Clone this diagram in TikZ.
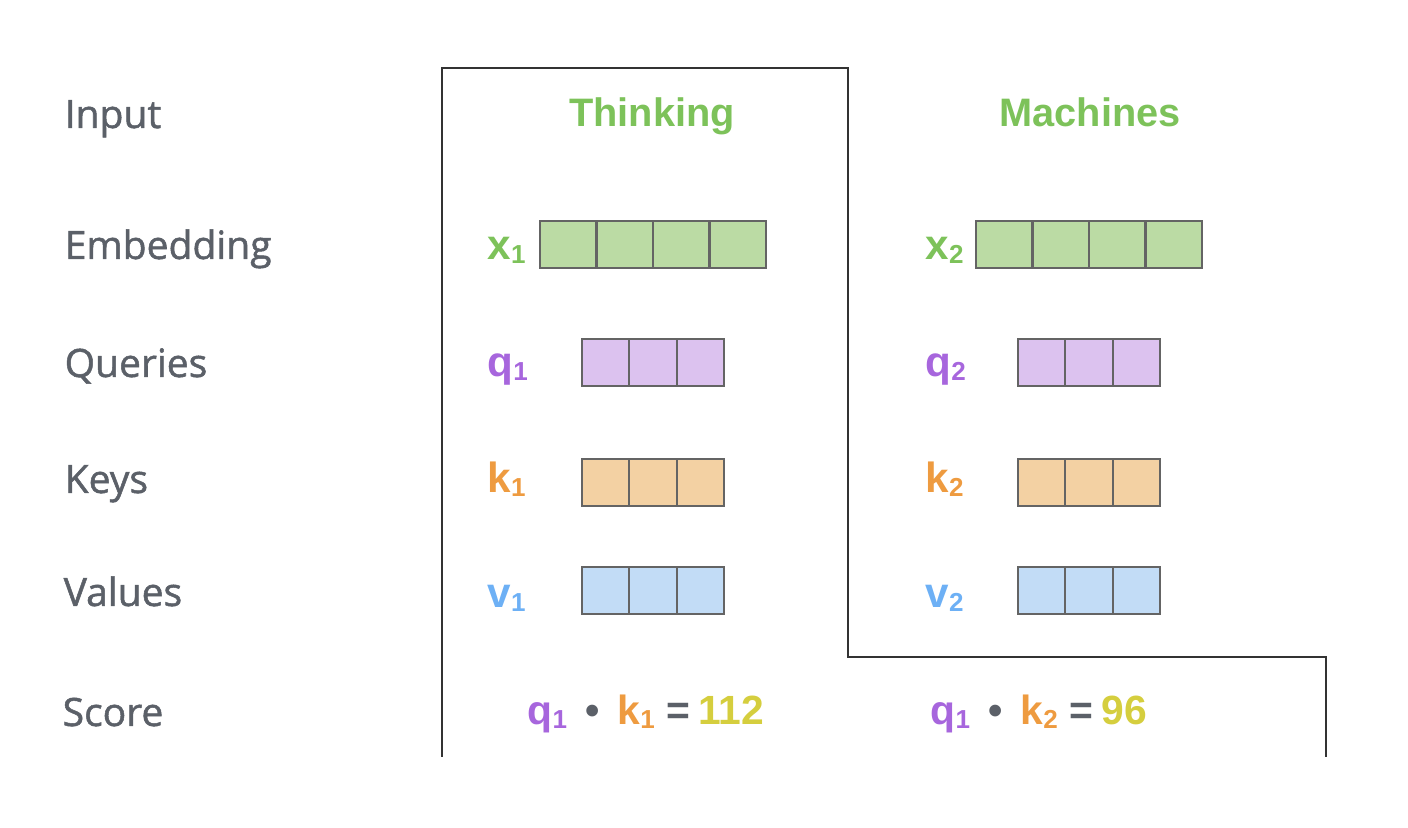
\documentclass[tikz,border=0pt]{standalone}
\usepackage{fontspec}
\setmainfont{Liberation Sans}
\newfontfamily\labelfont[FakeBold=1.3]{Open Sans}
\definecolor{greentext}{HTML}{7DC25A}
\definecolor{greenfill}{HTML}{BBDBA4}
\definecolor{purpletext}{HTML}{A766DD}
\definecolor{purplefill}{HTML}{DCC2EF}
\definecolor{orangetext}{HTML}{EE9B40}
\definecolor{orangefill}{HTML}{F3D1A3}
\definecolor{bluetext}{HTML}{6DB0F5}
\definecolor{bluefill}{HTML}{C2DCF6}
\definecolor{scoretext}{HTML}{D5CE3E}
\definecolor{labelgray}{HTML}{5B6068}
\definecolor{cellborder}{HTML}{646464}
\definecolor{outline}{HTML}{333333}
\newcommand{\vsub}[2]{#1\raisebox{-0.9pt}{\fontsize{7.4}{8}\selectfont #2}}
\tikzset{
  rowlabel/.style={anchor=base west, inner sep=0pt, text=labelgray,
    font=\labelfont\fontsize{11.1}{13}\selectfont},
  word/.style={anchor=base, inner sep=0pt, text=greentext,
    font=\bfseries\fontsize{11.3}{13}\selectfont},
  veclabel/.style={anchor=base west, inner sep=0pt, text=#1,
    font=\bfseries\fontsize{12}{14}\selectfont},
  cell/.style={draw=cellborder, fill=#1, line width=0.6pt,
    minimum width=0.565cm, minimum height=0.47cm, inner sep=0pt,
    outer sep=0pt, anchor=north west},
  cell3/.style={cell=#1, minimum width=0.4733cm},
  score/.style={anchor=base west, inner sep=0pt,
    font=\bfseries\fontsize{11.6}{14}\selectfont}
}
\begin{document}
\begin{tikzpicture}[x=0.01cm, y=-0.01cm]
\useasboundingbox (0,0) rectangle (1408,828);

%--- Row labels ---
\node[rowlabel] (lInput)  at (64,128) {Input};
\node[rowlabel] (lEmbed)  at (64,259) {Embedding};
\node[rowlabel] (lQuery)  at (64,377) {Queries};
\node[rowlabel] (lKey)    at (64,493) {Keys};
\node[rowlabel] (lValue)  at (63,606) {Values};
\node[rowlabel] (lScore)  at (62,726) {Score};

%--- Input words ---
\node[word] (wThinking) at (652,127)  {Thinking};
\node[word] (wMachines) at (1090,127) {Machines};

%--- Vectors: one column per word ---
\foreach \n/\ox/\lx in {1/0/487, 2/436/925} {
  \node[veclabel=greentext]  (x\n) at (\lx,260) {\vsub{x}{\n}};
  \node[veclabel=purpletext] (q\n) at (\lx,377) {\vsub{q}{\n}};
  \node[veclabel=orangetext] (k\n) at (\lx,493) {\vsub{k}{\n}};
  \node[veclabel=bluetext]   (v\n) at (\lx,608) {\vsub{v}{\n}};
  \foreach \i in {0,...,3}
    \node[cell=greenfill] (x\n-\i) at (540+\ox+\i*56.5,221) {};
  \foreach \i in {0,...,2} {
    \node[cell3=purplefill] (q\n-\i) at (582+\ox+\i*47.33,339) {};
    \node[cell3=orangefill] (k\n-\i) at (582+\ox+\i*47.33,459) {};
    \node[cell3=bluefill]   (v\n-\i) at (582+\ox+\i*47.33,567) {};
  }
}

%--- Scores ---
\node[score] (s1) at (527,725) {\textcolor{purpletext}{\vsub{q}{1}}\,
  \textcolor{labelgray}{•}\,
  \textcolor{orangetext}{\vsub{k}{1}} \textcolor{labelgray}{=}\hspace{2.4pt}%
  \textcolor{scoretext}{112}};
\node[score] (s2) at (930,725) {\textcolor{purpletext}{\vsub{q}{1}}\,
  \textcolor{labelgray}{•}\,
  \textcolor{orangetext}{\vsub{k}{2}} \textcolor{labelgray}{=}\hspace{2.4pt}%
  \textcolor{scoretext}{96}};

%--- Outline ---
\draw[outline, line width=0.6pt]
  (442,757) -- (442,68) -- (848,68) -- (848,657) -- (1326,657) -- (1326,757);

\end{tikzpicture}
\end{document}
